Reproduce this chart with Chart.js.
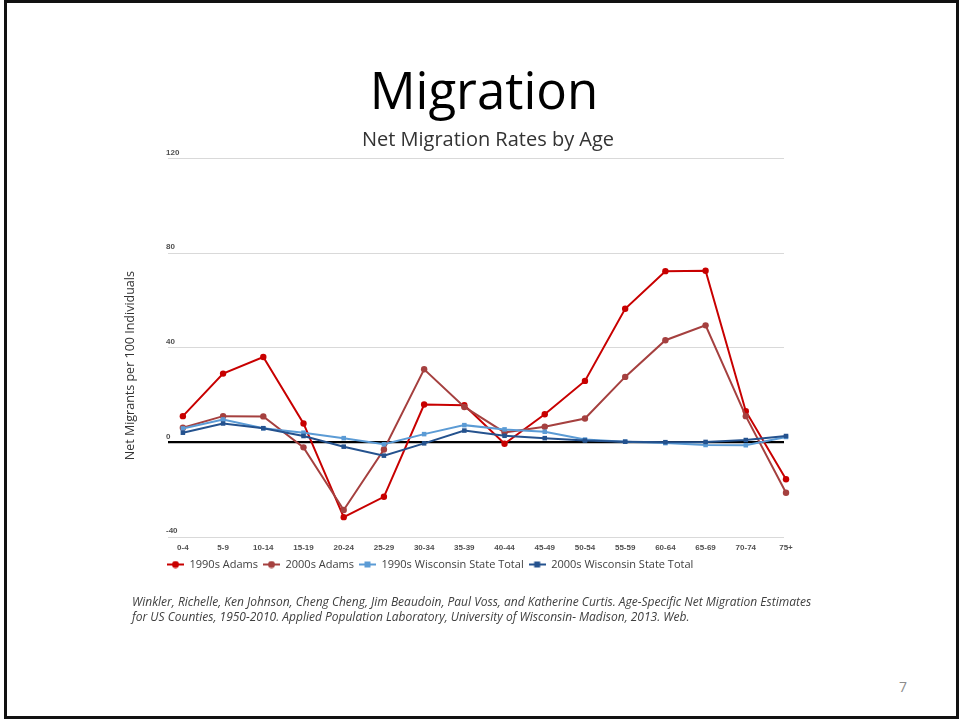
<!DOCTYPE html>
<html>
<head>
<meta charset="utf-8">
<script src="https://cdn.jsdelivr.net/npm/chart.js@4.4.1/dist/chart.umd.min.js"></script>
<style>
    body { margin: 0; background: #fff; }
    .slide { position: relative; width: 961px; height: 719px; overflow: hidden; background: #fff; }
    .frame { position: absolute; left: 4px; top: 0; width: 955px; height: 719px; box-sizing: border-box; border: 3px solid #111; }
    .heading { position: absolute; left: 4px; top: 64px; width: 960px; text-align: center; font-family: 'Open Sans', sans-serif; font-size: 51px; line-height: 1; color: #000; }
    .source { position: absolute; left: 132px; top: 594px; font-family: 'Open Sans', sans-serif; font-style: italic; font-size: 12px; line-height: 15px; color: #404040; white-space: nowrap; }
    .page-no { position: absolute; left: 899px; top: 677px; font-family: 'Open Sans', sans-serif; font-size: 14px; color: #8c8c8c; }
    #chartMigration { position: absolute; left: 0; top: 0; }
</style>
</head>
<body>
<div class="slide">
    <canvas id="chartMigration" width="961" height="600"></canvas>
    <div class="heading">Migration</div>
    <div class="source">Winkler, Richelle, Ken Johnson, Cheng Cheng, Jim Beaudoin, Paul Voss, and Katherine Curtis. Age-Specific Net Migration Estimates<br>for US Counties, 1950-2010. Applied Population Laboratory, University of Wisconsin- Madison, 2013. Web.</div>
    <div class="page-no">7</div>
    <div class="frame"></div>
</div>
<script>
const ageGroups = ['0-4', '5-9', '10-14', '15-19', '20-24', '25-29', '30-34', '35-39', '40-44', '45-49', '50-54', '55-59', '60-64', '65-69', '70-74', '75+'];

const adams1990 = [11.1, 29.1, 36.1, 8.0, -31.6, -23.0, 16.0, 15.7, -0.6, 11.9, 26.0, 56.5, 72.4, 72.6, 13.2, -15.6];
const adams2000 = [6.2, 11.1, 11.0, -2.1, -28.6, -3.0, 30.9, 15.0, 4.2, 6.6, 10.1, 27.7, 43.2, 49.5, 11.1, -21.3];
const wisconsin1990 = [5.9, 9.7, 6.0, 4.1, 1.8, -0.8, 3.5, 7.3, 5.5, 4.5, 1.2, 0.3, -0.3, -1.1, -1.2, 2.3];
const wisconsin2000 = [4.1, 8.0, 6.0, 2.7, -1.8, -5.6, -0.4, 5.0, 2.8, 1.8, 0.8, 0.3, 0.1, 0.2, 1.0, 2.7];

const yTicks = [-40, 0, 40, 80, 120];

const seriesNames = ['1990s Adams', '2000s Adams', '1990s Wisconsin State Total', '2000s Wisconsin State Total'];
const seriesColors = ['#C80000', '#A5403F', '#5B9BD5', '#24528E'];
const seriesMarkers = ['circle', 'circle', 'rect', 'rect'];

// little "line + marker" icons for the legend, like the office chart
function legendIcon(color, marker) {
    const c = document.createElement('canvas');
    c.width = 17;
    c.height = 8;
    const g = c.getContext('2d');
    g.strokeStyle = color;
    g.fillStyle = color;
    g.lineWidth = 2;
    g.beginPath();
    g.moveTo(0, 4);
    g.lineTo(17, 4);
    g.stroke();
    if (marker === 'circle') {
        g.beginPath();
        g.arc(8.5, 4, 3.5, 0, Math.PI * 2);
        g.fill();
    } else {
        g.fillRect(5.5, 1, 6, 6);
    }
    return c;
}

const legendIcons = seriesColors.map((color, i) => legendIcon(color, seriesMarkers[i]));

function toPoints(values) {
    return values.map((v, i) => ({ x: i, y: v }));
}

const seriesValues = [adams1990, adams2000, wisconsin1990, wisconsin2000];

const tickFont = { family: "'Liberation Sans', Arial, sans-serif", size: 8, weight: 'bold' };

new Chart(document.getElementById('chartMigration'), {
    type: 'line',
    data: {
        datasets: seriesValues.map((values, i) => {
            return {
                label: seriesNames[i],
                data: toPoints(values),
                borderColor: seriesColors[i],
                backgroundColor: seriesColors[i],
                borderWidth: 2,
                pointStyle: seriesMarkers[i],
                pointRadius: 3.2,
                pointBorderWidth: 0,
                tension: 0,
                clip: false,
                order: seriesValues.length - i
            };
        })
    },
    options: {
        responsive: false,
        animation: false,
        devicePixelRatio: 1,
        layout: {
            padding: { top: 127, left: 162, right: 147, bottom: 20 }
        },
        plugins: {
            title: {
                display: true,
                text: 'Net Migration Rates by Age',
                color: '#333333',
                font: { family: "'Open Sans', sans-serif", size: 20, weight: 'normal' },
                padding: { top: 1, bottom: 6.6 }
            },
            legend: {
                position: 'bottom',
                align: 'start',
                labels: {
                    color: '#404040',
                    font: { family: "'Open Sans', sans-serif", size: 11 },
                    usePointStyle: true,
                    pointStyleWidth: 17,
                    padding: 5,
                    sort: (a, b) => a.datasetIndex - b.datasetIndex,
                    generateLabels: chart => {
                        return Chart.defaults.plugins.legend.labels.generateLabels(chart).map(item => {
                            item.pointStyle = legendIcons[item.datasetIndex];
                            return item;
                        });
                    }
                }
            },
            tooltip: { enabled: false }
        },
        scales: {
            x: {
                type: 'linear',
                min: -0.37,
                max: 14.95,
                afterBuildTicks: axis => {
                    axis.ticks = ageGroups.map((_, i) => ({ value: i }));
                },
                afterFit: axis => {
                    axis.height = 17;
                },
                grid: { display: false, drawTicks: false },
                border: { display: false },
                ticks: {
                    autoSkip: false,
                    maxRotation: 0,
                    padding: 6,
                    color: '#505050',
                    font: tickFont,
                    callback: value => ageGroups[value]
                }
            },
            y: {
                min: -40,
                max: 120,
                afterBuildTicks: axis => {
                    axis.ticks = yTicks.map(v => ({ value: v }));
                },
                afterFit: axis => {
                    axis.width = 6;
                },
                grid: {
                    drawTicks: false,
                    color: ctx => ctx.tick.value === 0 ? '#000000' : '#D9D9D9',
                    lineWidth: ctx => ctx.tick.value === 0 ? 2.2 : 1
                },
                border: { display: false },
                ticks: {
                    mirror: true,
                    padding: -2,
                    labelOffset: -6,
                    color: '#505050',
                    font: tickFont
                },
                title: {
                    display: true,
                    // trailing spaces push the centred text down a little, as in the original slide
                    text: 'Net Migrants per 100 Individuals           ',
                    color: '#333333',
                    font: { family: "'Open Sans', sans-serif", size: 12.5 },
                    padding: { top: -39.5, bottom: 0 }
                }
            },
            y2: {
                position: 'right',
                display: true,
                afterFit: axis => {
                    axis.width = 30;
                },
                grid: { display: false, drawTicks: false },
                border: { display: false },
                ticks: { display: false }
            }
        }
    }
});
</script>
</body>
</html>
